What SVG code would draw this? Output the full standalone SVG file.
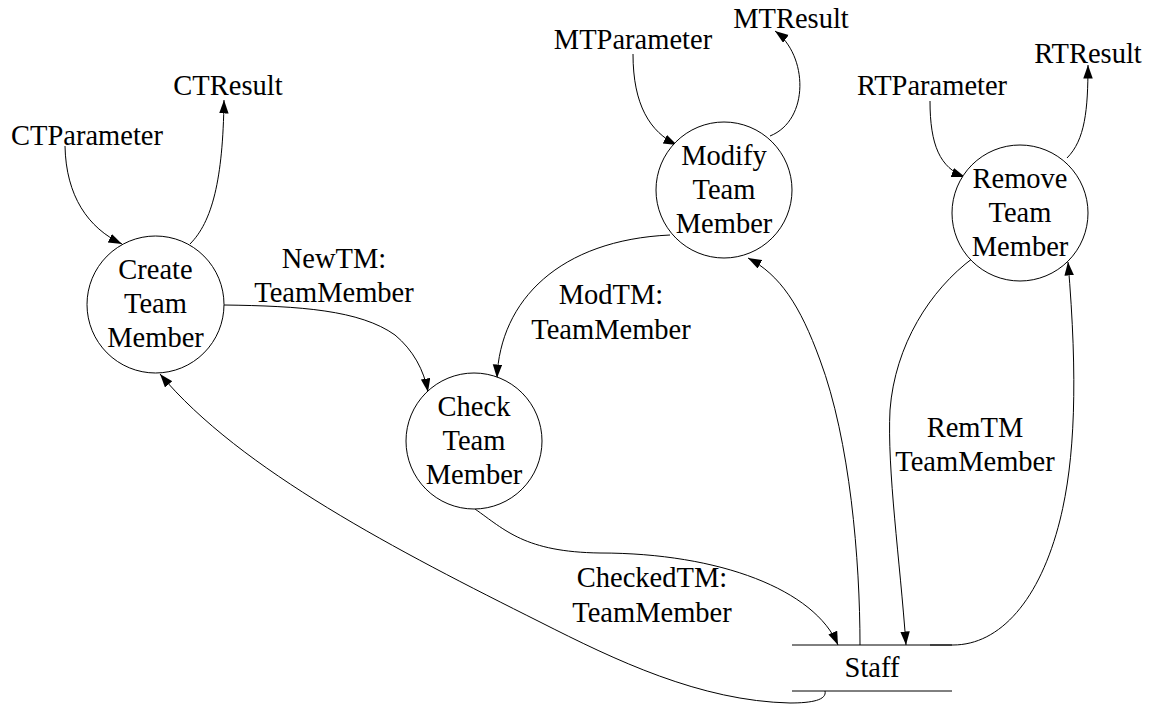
<svg xmlns="http://www.w3.org/2000/svg" width="1153" height="704" viewBox="0 0 1153 704" font-family="'Liberation Serif', 'Times New Roman', Times, serif">
  <style>
    .bg { fill: #ffffff; }
    .proc { fill: #ffffff; stroke: #000000; stroke-width: 1; }
    .store { stroke: #000000; stroke-width: 1; fill: none; }
    .edge { fill: none; stroke: #000000; stroke-width: 1; }
    .arrow { marker-end: url(#head); }
    text { font-family: 'Liberation Serif', 'Times New Roman', Times, serif; font-size: 28.5px; fill: #000000; text-anchor: middle; }
  </style>
  <defs>
    <marker id="head" markerUnits="userSpaceOnUse" markerWidth="15" markerHeight="11" refX="13.5" refY="4.75" orient="auto">
      <path d="M0,0 L13.5,4.75 L0,9.5 Z" fill="#000000"/>
    </marker>
  </defs>
  <rect class="bg" x="0" y="0" width="1153" height="704"/>

  <!-- data flows -->
  <g id="connectors">
    <path id="e-ctparam" class="edge arrow" d="M65,146 C66,196 88,228 122,244"/>
    <path id="e-ctresult" class="edge arrow" d="M190,244 C212,222 223,180 224,100"/>
    <path id="e-newtm" class="edge arrow" d="M224,305 C300,306 360,310 395,335 C413,350 424,370 428,392"/>
    <path id="e-modtm" class="edge arrow" d="M670,235 C560,240 500,300 497,378"/>
    <path id="e-create" class="edge arrow" d="M825,691 C827,700 812,703 790,703 C700,701 615,660 540,622 C400,552 240,470 160,374"/>
    <path id="e-checked" class="edge arrow" d="M475,509 C505,530 525,552 600,553 C720,553 815,590 838,645"/>
    <path id="e-modify" class="edge arrow" d="M860,645 C860,560 850,440 820,360 C800,305 780,275 748,258"/>
    <path id="e-remtm" class="edge arrow" d="M973,258 C930,290 895,345 890,410 C887,470 900,560 906,645"/>
    <path id="e-remove" class="edge arrow" d="M930,645 L953,645 C1000,645 1040,600 1060,520 C1075,460 1078,380 1068,262"/>
    <path id="e-mtparam" class="edge arrow" d="M633,54 C633,105 650,132 677,145"/>
    <path id="e-mtresult" class="edge arrow" d="M770,136 C810,120 808,55 775,31"/>
    <path id="e-rtparam" class="edge arrow" d="M930,101 C930,145 940,168 965,177"/>
    <path id="e-rtresult" class="edge arrow" d="M1067,158 C1085,140 1088,110 1088,65"/>
  </g>

  <!-- flow labels -->
  <g id="labels">
    <text x="87" y="145">CTParameter</text>
    <text x="228" y="95">CTResult</text>
    <text x="633" y="49">MTParameter</text>
    <text x="791" y="28">MTResult</text>
    <text x="932" y="95">RTParameter</text>
    <text x="1088" y="63">RTResult</text>
    <text x="334" y="268">NewTM:</text>
    <text x="334" y="302">TeamMember</text>
    <text x="611" y="304">ModTM:</text>
    <text x="611" y="339">TeamMember</text>
    <text x="652" y="587">CheckedTM:</text>
    <text x="652" y="622">TeamMember</text>
    <text x="975" y="437">RemTM</text>
    <text x="975" y="471">TeamMember</text>
  </g>

  <!-- processes -->
  <g id="create">
    <circle class="proc" cx="155.5" cy="304.5" r="68.5"/>
    <text x="155.5" y="279">Create</text>
    <text x="155.5" y="313">Team</text>
    <text x="155.5" y="347">Member</text>
  </g>
  <g id="check">
    <circle class="proc" cx="474" cy="441" r="68"/>
    <text x="474" y="416">Check</text>
    <text x="474" y="450">Team</text>
    <text x="474" y="484">Member</text>
  </g>
  <g id="modify">
    <circle class="proc" cx="724" cy="190" r="68"/>
    <text x="724" y="165">Modify</text>
    <text x="724" y="199">Team</text>
    <text x="724" y="233">Member</text>
  </g>
  <g id="remove">
    <circle class="proc" cx="1020" cy="213" r="68"/>
    <text x="1020" y="188">Remove</text>
    <text x="1020" y="222">Team</text>
    <text x="1020" y="256">Member</text>
  </g>

  <!-- data store -->
  <g id="staff">
    <line class="store" x1="792" y1="645" x2="952" y2="645"/>
    <line class="store" x1="792" y1="691" x2="952" y2="691"/>
    <text x="872" y="677">Staff</text>
  </g>
</svg>
